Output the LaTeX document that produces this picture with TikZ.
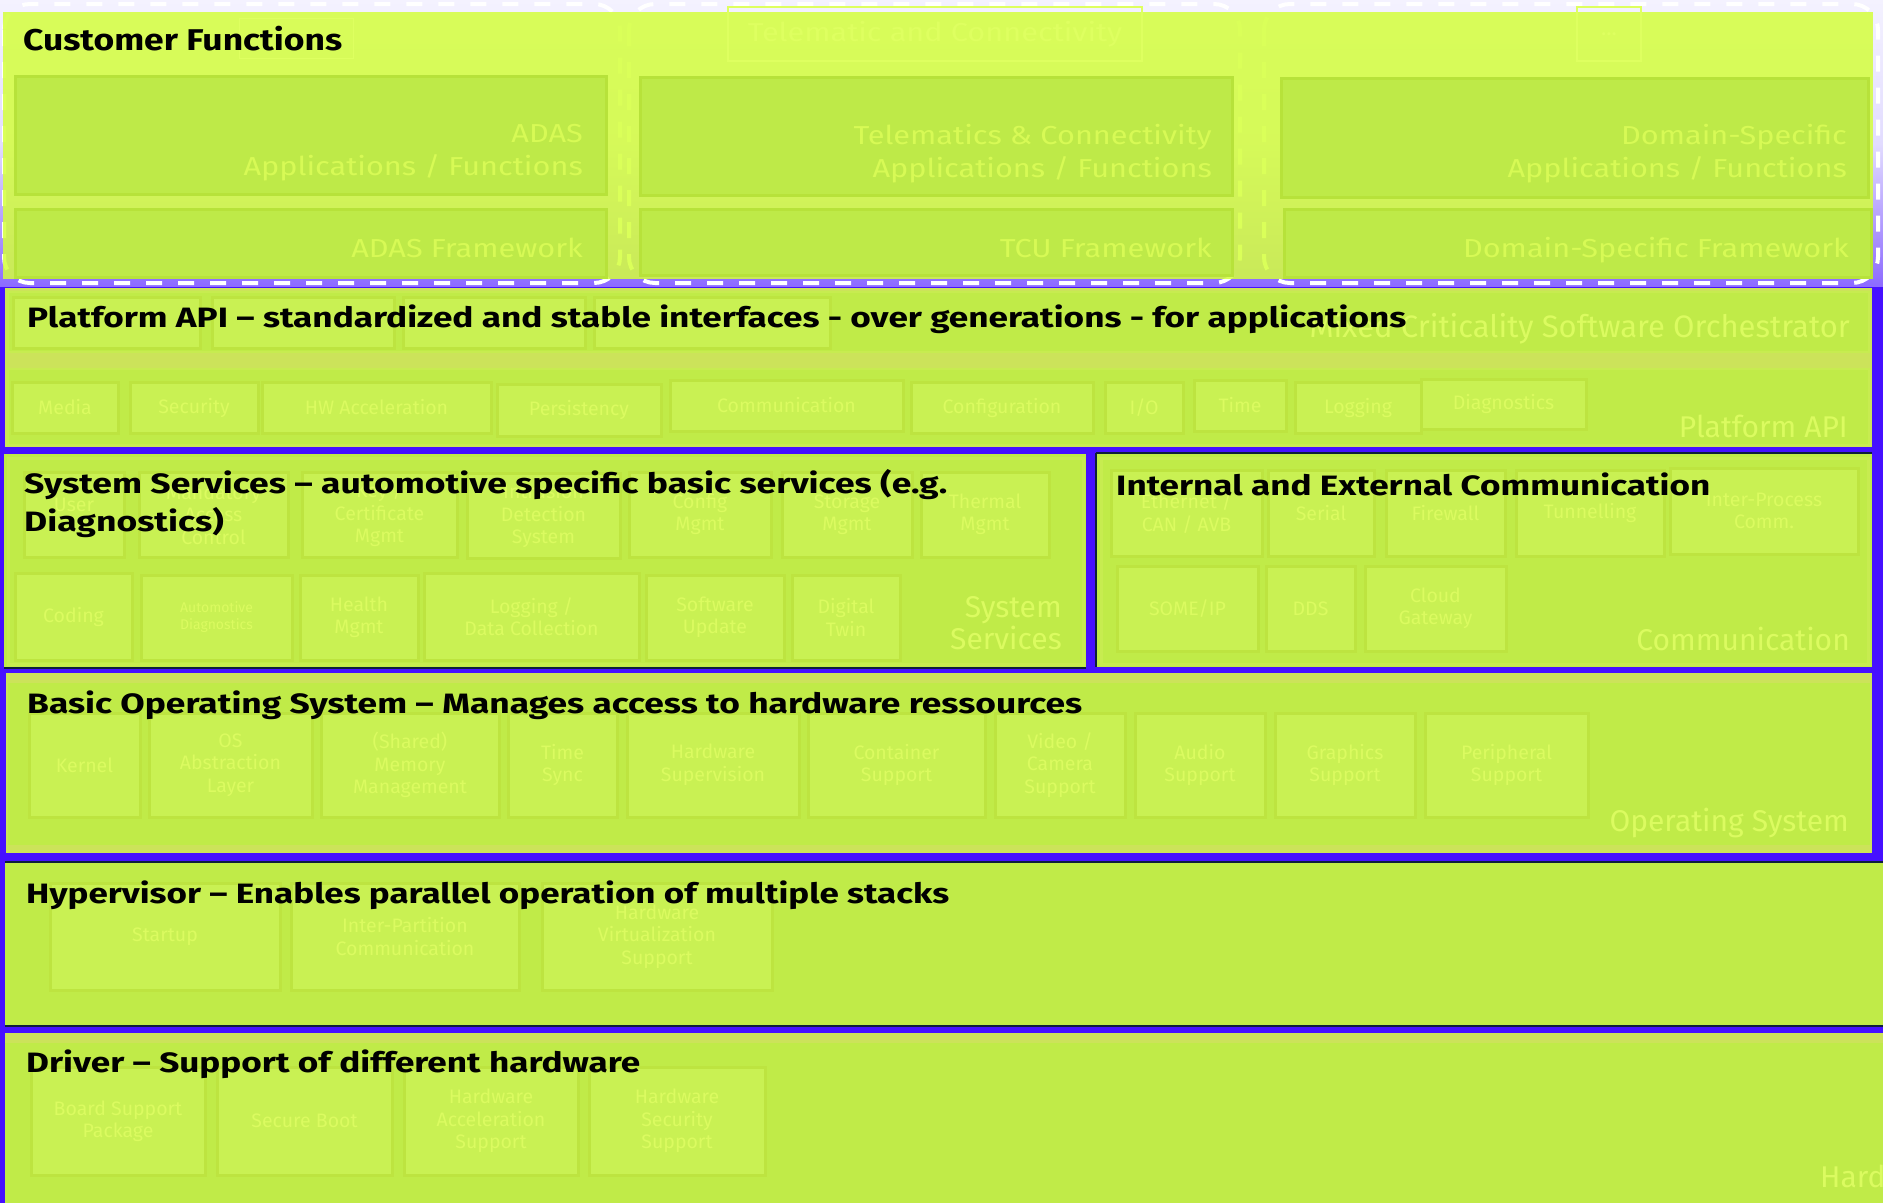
\documentclass[tikz,border=0pt]{standalone}
\usepackage{fontspec}
\usepackage{graphicx}
\setmainfont{Fira Sans}
\newfontfamily\headfont{Fira Sans}
\newfontfamily\widefont{Fira Sans}[FakeStretch=1.18]

\definecolor{lilactop}{RGB}{244,242,255}
\definecolor{lilacmid}{RGB}{226,220,255}
\definecolor{lilacbot}{RGB}{140,106,255}
\definecolor{cfgreen}{RGB}{212,255,60}
\definecolor{laneblue}{RGB}{70,16,255}
\definecolor{laygreen}{RGB}{192,235,72}
\definecolor{bandgreen}{RGB}{204,227,90}
\definecolor{innerline}{RGB}{199,236,80}
\definecolor{cellfill}{RGB}{201,241,83}
\definecolor{cellline}{RGB}{189,228,64}
\definecolor{panelfill}{RGB}{190,234,72}
\definecolor{panelline}{RGB}{183,226,58}
\definecolor{ghosttext}{RGB}{219,251,96}
\definecolor{cftext}{RGB}{215,250,85}
\definecolor{faintline}{RGB}{222,255,96}
\definecolor{navy}{RGB}{14,30,60}

% a faint cell: name, x1, y1, x2, y2, text
\newcommand\cell[6]{%
  \node[cellbox, minimum width={#4-#2}, minimum height={#5-#3}] (#1) at ({(#2+#4)/2},{(#3+#5)/2}) {};
  \node[celltext] (#1-t) at (#1.center) {#6};}
% stretch a heading to a given width, keeping its height
\newcommand\wide[2]{\resizebox{#1pt}{\height}{#2}}

\begin{document}
\begin{tikzpicture}[x=1pt,y=-1pt,
  cellbox/.style={draw=cellline, fill=cellfill, line width=3pt, inner sep=0pt, outer sep=0pt},
  celltext/.style={text=ghosttext, font=\headfont\fontsize{19.5}{22.5}\selectfont, align=center, inner sep=0pt},
  panel/.style={draw=panelline, fill=panelfill, line width=3pt},
  paneltext/.style={anchor=base east, text=cftext, align=right, inner sep=0pt, font=\widefont\fontsize{26}{33}\selectfont},
  laylabel/.style={anchor=base east, text=ghosttext, align=right, inner sep=0pt, font=\headfont\fontsize{30}{32}\selectfont},
  heading/.style={anchor=base west, inner sep=0pt, text=black, font=\headfont\bfseries\fontsize{28}{38}\selectfont},
  colframe/.style={draw=white, line width=4pt, rounded corners=26pt, dash pattern=on 16pt off 16pt},
  layer/.style={fill=laygreen},
  shadowline/.style={navy, line width=2pt}]

\useasboundingbox (0,0) rectangle (1883,1203);
\clip (0,0) rectangle (1883,1203);

% ---------- customer functions ----------
\shade[top color=lilactop, bottom color=lilacbot, middle color=lilacmid] (0,0) rectangle (1883,287);
\draw[colframe] (4,4) rectangle (620,283);
\draw[colframe] (629,4) rectangle (1240,283);
\draw[colframe] (1264,4) rectangle (1878,283);
\fill[cfgreen, fill opacity=0.85] (3,12) rectangle (1873,279);

\node[draw=faintline, line width=1pt, minimum width=114, minimum height=40, inner sep=0pt] (cfghost) at (296,38) {};
\node[draw=faintline, line width=1.5pt, minimum width=414, minimum height=54, inner sep=0pt,
      text=faintline, font=\widefont\fontsize{26}{30}\selectfont] (telghost) at (935,34) {Telematic and Connectivity};
\node[draw=faintline, line width=1.5pt, minimum width=64, minimum height=54, inner sep=0pt,
      text=faintline, font=\headfont\fontsize{22}{26}\selectfont] (moreghost) at (1609,34) {...};

\draw[panel] (15,76) rectangle (606,194) node[pos=0.5] (adasapp) {};
\draw[panel] (15,209) rectangle (606,277) node[pos=0.5] (adasfw) {};
\draw[panel] (640,77) rectangle (1232,195) node[pos=0.5] (tcuapp) {};
\draw[panel] (640,209) rectangle (1232,275) node[pos=0.5] (tcufw) {};
\draw[panel] (1281,78) rectangle (1868,197) node[pos=0.5] (domapp) {};
\draw[panel] (1284,209) rectangle (1871,277) node[pos=0.5] (domfw) {};

% (the base of a two-line node is the baseline of its last line)
\node[paneltext] (adasapp-t) at (583,175) {ADAS\\Applications / Functions};
\node[paneltext] (adasfw-t) at (583,257) {ADAS Framework};
\node[paneltext] (tcuapp-t) at (1212,177) {Telematics \& Connectivity\\Applications / Functions};
\node[paneltext] (tcufw-t) at (1212,257) {TCU Framework};
\node[paneltext] (domapp-t) at (1847,177) {Domain-Specific\\Applications / Functions};
\node[paneltext] (domfw-t) at (1849,257) {Domain-Specific Framework};

\node[heading, font=\headfont\bfseries\fontsize{30}{36}\selectfont] (cftitle) at (23,50) {\wide{319}{Customer Functions}};

% ---------- stack of layers ----------
\fill[laneblue] (0,287) rectangle (1883,1203);

% platform api
\fill[bandgreen] (5,288) rectangle (1872,447);
\fill[layer] (7,291) rectangle (1870,353);
\fill[layer] (7,368) rectangle (1870,446);
\draw[innerline, line width=2pt] (8,292) rectangle (1869,352);
\draw[innerline, line width=2pt] (8,369) rectangle (1869,445);
\cell{pa1}{13}{297}{200}{348}{}
\cell{pa2}{212}{297}{394}{348}{}
\cell{pa3}{403}{297}{585}{348}{}
\cell{pa4}{594}{297}{830}{348}{}
\node[laylabel, font=\headfont\fontsize{31}{34}\selectfont] (orch) at (1850,337) {Mixed Criticality Software Orchestrator};
\cell{media}{12}{382}{118}{433}{Media}
\cell{security}{130}{382}{258}{433}{Security}
\cell{hwacc}{262}{382}{491}{433}{HW Acceleration}
\cell{persist}{497}{384}{661}{436}{Persistency}
\cell{commapi}{670}{380}{903}{431}{Communication}
\cell{config}{911}{382}{1093}{433}{Configuration}
\cell{io}{1105}{382}{1183}{433}{I/O}
\cell{time}{1194}{380}{1286}{431}{Time}
\cell{logging}{1295}{382}{1421}{433}{Logging}
\cell{diag}{1421}{379}{1586}{429}{Diagnostics}
\node[laylabel] (apilabel) at (1848,437) {Platform API};
\node[heading] (apititle) at (27,327) {\wide{1379}{Platform API – standardized and stable interfaces - over generations - for applications}};

% system services
\fill[layer] (4,454) rectangle (1086,667);
\draw[innerline, line width=3pt] (8,458) rectangle (1083,664);
\draw[shadowline] (4,668) -- (1086,668);
\cell{user}{24}{472}{124}{557}{}
\node[celltext] (user-t) at (74,505) {User};
\cell{mac}{139}{472}{288}{557}{Mandatory\\Access\\Control}
\cell{keycert}{302}{472}{457}{557}{Key /\\Certificate\\Mgmt}
\cell{ids}{467}{473}{620}{558}{Intrusion\\Detection\\System}
\cell{cfgmgmt}{629}{472}{771}{557}{Config\\Mgmt}
\cell{storage}{782}{472}{912}{557}{Storage\\Mgmt}
\cell{thermal}{921}{472}{1049}{557}{Thermal\\Mgmt}
\cell{coding}{15}{573}{132}{660}{Coding}
\cell{autodiag}{141}{575}{292}{660}{}
\node[celltext, font=\headfont\fontsize{14}{17}\selectfont] (autodiag-t) at (autodiag.center) {Automotive\\Diagnostics};
\cell{health}{300}{575}{418}{660}{Health\\Mgmt}
\cell{datacol}{424}{573}{639}{660}{Logging /\\Data Collection}
\cell{swupd}{646}{575}{784}{660}{Software\\Update}
\cell{twin}{792}{575}{900}{660}{Digital\\Twin}
\node[laylabel] (syslabel) at (1062,649) {System\\Services};
\node[heading] (systitle) at (24,493) {\wide{923}{\begin{tabular}[t]{@{}l@{}}System Services – automotive specific basic services (e.g.\\Diagnostics)\end{tabular}}};

% internal and external communication
\fill[layer] (1097,454) rectangle (1872,667);
\draw[innerline, line width=3pt] (1101,458) rectangle (1868,664);
\draw[shadowline] (1096,453) -- (1872,453);
\draw[shadowline] (1096,453) -- (1096,667);
\cell{ether}{1111}{470}{1262}{556}{Ethernet /\\CAN / AVB}
\cell{serial}{1268}{470}{1374}{556}{Serial}
\cell{firewall}{1386}{470}{1505}{556}{Firewall}
\cell{tunnel}{1516}{470}{1664}{556}{Tunnelling}
\cell{ipc}{1670}{468}{1858}{554}{Inter-Process\\Comm.}
\cell{someip}{1117}{566}{1258}{651}{SOME/IP}
\cell{dds}{1266}{566}{1355}{651}{DDS}
\cell{cloud}{1365}{566}{1506}{651}{Cloud\\Gateway}
\node[laylabel] (commlabel) at (1850,650) {Communication};
\node[heading] (commtitle) at (1116,495) {\wide{594}{Internal and External Communication}};

% basic operating system
\fill[bandgreen] (6,673) rectangle (1872,853);
\fill[layer] (8,683) rectangle (1870,845);
\cell{kernel}{29}{713}{140}{817}{Kernel}
\cell{osal}{149}{713}{312}{817}{OS\\Abstraction\\Layer}
\cell{shmem}{321}{713}{499}{817}{(Shared)\\Memory\\Management}
\cell{tsync}{508}{713}{617}{817}{Time\\Sync}
\cell{hwsup}{627}{713}{799}{817}{Hardware\\Supervision}
\cell{container}{808}{713}{985}{817}{Container\\Support}
\cell{video}{995}{713}{1125}{817}{Video /\\Camera\\Support}
\cell{audio}{1135}{713}{1265}{817}{Audio\\Support}
\cell{graphics}{1275}{713}{1415}{817}{Graphics\\Support}
\cell{periph}{1425}{713}{1588}{817}{Peripheral\\Support}
\node[laylabel] (oslabel) at (1849,831) {Operating System};
\node[heading] (ostitle) at (27,713) {\wide{1055}{Basic Operating System – Manages access to hardware ressources}};

% hypervisor
\fill[layer] (5,863) rectangle (1883,1025);
\draw[shadowline] (5,862) -- (1883,862);
\draw[shadowline] (5,1026) -- (1883,1026);
\cell{startup}{50}{883}{280}{990}{Startup}
\cell{interpart}{291}{883}{519}{990}{Inter-Partition\\Communication}
\cell{hwvirt}{542}{883}{772}{990}{Hardware\\Virtualization\\Support}
\node[heading] (hyptitle) at (26,903) {\wide{923}{Hypervisor – Enables parallel operation of multiple stacks}};

% driver
\fill[bandgreen] (5,1033) rectangle (1883,1203);
\fill[layer] (5,1043) rectangle (1883,1203);
\cell{bsp}{31}{1067}{205}{1175}{Board Support\\Package}
\cell{secboot}{217}{1067}{392}{1175}{Secure Boot}
\cell{hwaccsup}{404}{1067}{578}{1175}{Hardware\\Acceleration\\Support}
\cell{hwsec}{589}{1067}{765}{1175}{Hardware\\Security\\Support}
\node[laylabel, anchor=base west] (hwlabel) at (1820,1187) {Hardware};
\node[heading] (drvtitle) at (26,1072) {\wide{614}{Driver – Support of different hardware}};
\end{tikzpicture}
\end{document}
